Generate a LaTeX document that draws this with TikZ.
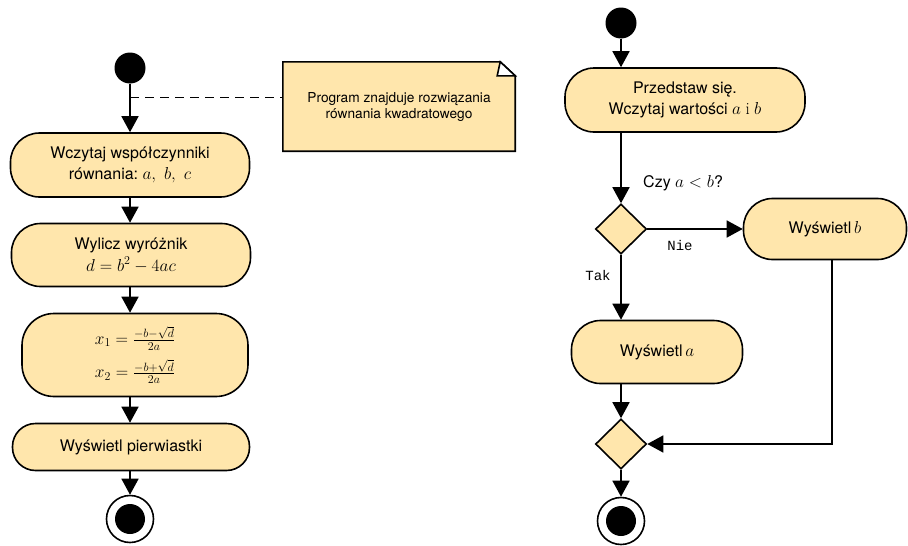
\documentclass[tikz,border=0pt]{standalone}
\usepackage{fontspec}
\setmainfont{TeX Gyre Heros}
\setmonofont{Liberation Mono}
\usepackage{xcolor}
\usetikzlibrary{shapes.geometric,arrows.meta,calc,positioning}
\definecolor{kremowy}{RGB}{255,230,172}
\newcommand{\wz}[1]{{\fontsize{18}{22}\selectfont$#1$}}
\newcommand{\spojnik}[1]{{\fontsize{17}{22}\fontfamily{lmr}\selectfont #1}}

\begin{document}
\begin{tikzpicture}[x=1pt,y=-1pt]
			\tikzstyle{akcja}=[rectangle,rounded corners=29pt,draw,line width=1.6pt,fill=kremowy,align=center,inner sep=0pt,font=\fontsize{16}{21}\selectfont]
			\tikzstyle{decyzja}=[diamond,draw,line width=1.6pt,fill=kremowy,minimum width=51pt,minimum height=50pt,inner sep=0pt]
			\tikzstyle{poczatek}=[circle,fill=black,minimum size=31pt,inner sep=0pt]
			\tikzstyle{koniec}=[circle,draw,line width=1.6pt,fill=white,minimum size=47pt,inner sep=0pt]
			\tikzstyle{srodek}=[circle,fill=black,minimum size=30pt,inner sep=0pt]
			\tikzstyle{strzalka}=[line width=1.6pt,-{Triangle[length=16pt,width=17pt]}]
			\tikzstyle{etykieta}=[font=\ttfamily\fontsize{14}{16}\selectfont,inner sep=0pt]
			\useasboundingbox (0,0) rectangle (908,546);
			% lewa kolumna
			\node[poczatek] (start1) at (130,68) {};
			\node[akcja,minimum width=239pt,minimum height=64pt] (wczytaj) at (130,165) {Wczytaj współczynniki\\równania:\ \wz{a,\ b,\ c}};
			\node[akcja,minimum width=239pt,minimum height=63pt] (wyroznik) at (131,255) {Wylicz wyróżnik\\[1pt]\wz{d=b^2-4ac}};
			\node[akcja,minimum width=226pt,minimum height=83pt,rounded corners=32pt] (pierwiastki) at (135,355) {\wz{x_1=\frac{-b-\sqrt{d}}{2a}}\\[9pt]\wz{x_2=\frac{-b+\sqrt{d}}{2a}}};
			\node[akcja,minimum width=237pt,minimum height=47pt,rounded corners=23pt] (wyswietl) at (131,447) {Wyświetl pierwiastki};
			\node[koniec] (koniec1) at (130,519) {};
			\node[srodek] (srodek1) at (koniec1) {};
			\node[rectangle,minimum width=232pt,minimum height=89pt,inner sep=0pt] (notatka) at (399,106.5) {};
			\filldraw[fill=kremowy,line width=1.6pt] (notatka.south west) -- (notatka.north west) -- ($(notatka.north east)+(-15,0)$) -- ($(notatka.north east)+(0,14)$) -- (notatka.south east) -- cycle;
			\filldraw[fill=white,line width=1.6pt] ($(notatka.north east)+(-15,0)$) -- ($(notatka.north east)+(-18,14)$) -- ($(notatka.north east)+(0,14)$) -- cycle;
			\node[align=center,font=\fontsize{13.7}{16}\selectfont] (opis) at (notatka) {Program znajduje rozwiązania\\równania kwadratowego};
			\coordinate (kotwica) at (130,97);
			\draw[strzalka] (start1) -- (wczytaj);
			\draw[dashed,dash pattern=on 9pt off 6pt,line width=1pt] (kotwica) -- (kotwica -| notatka.west);
			\draw[strzalka] (wczytaj.south) -- (wczytaj.south |- wyroznik.north);
			\draw[strzalka] (wczytaj.south |- wyroznik.south) -- (wczytaj.south |- pierwiastki.north);
			\draw[strzalka] (wczytaj.south |- pierwiastki.south) -- (wczytaj.south |- wyswietl.north);
			\draw[strzalka] (wczytaj.south |- wyswietl.south) -- (koniec1);
			% prawa kolumna
			\node[poczatek] (start2) at (621,23) {};
			\node[akcja,minimum width=240pt,minimum height=64pt] (przedstaw) at (685,100) {Przedstaw się.\\Wczytaj wartości \wz{a}\ \spojnik{i}\ \wz{b}};
			\node[decyzja] (wybor) at (621,229) {};
			\node[anchor=west,inner sep=0pt,font=\fontsize{16}{18}\selectfont] (pytanie) at (643,183) {Czy \wz{a<b}?};
			\node[akcja,minimum width=163pt,minimum height=61pt] (wyswB) at (825,229) {Wyświetl\,\wz{b}};
			\node[akcja,minimum width=171pt,minimum height=63pt] (wyswA) at (657,352) {Wyświetl\,\wz{a}};
			\node[decyzja] (scalenie) at (621,444) {};
			\node[koniec] (koniec2) at (621,521) {};
			\node[srodek] (srodek2) at (koniec2) {};
			\node[etykieta] (nie) at (680,245) {Nie};
			\node[etykieta] (tak) at (598,275) {Tak};
			\coordinate (zejscie) at ($(wyswB.south)+(7,0)$);
			\draw[strzalka] (start2) -- (start2 |- przedstaw.north);
			\draw[strzalka] (start2 |- przedstaw.south) -- (wybor);
			\draw[strzalka] (wybor) -- (wyswB);
			\draw[strzalka] (wybor) -- (wybor |- wyswA.north);
			\draw[strzalka] (wybor |- wyswA.south) -- (scalenie);
			\draw[strzalka] (zejscie) |- (scalenie);
			\draw[strzalka] (scalenie) -- (koniec2);
		\end{tikzpicture}
\end{document}
